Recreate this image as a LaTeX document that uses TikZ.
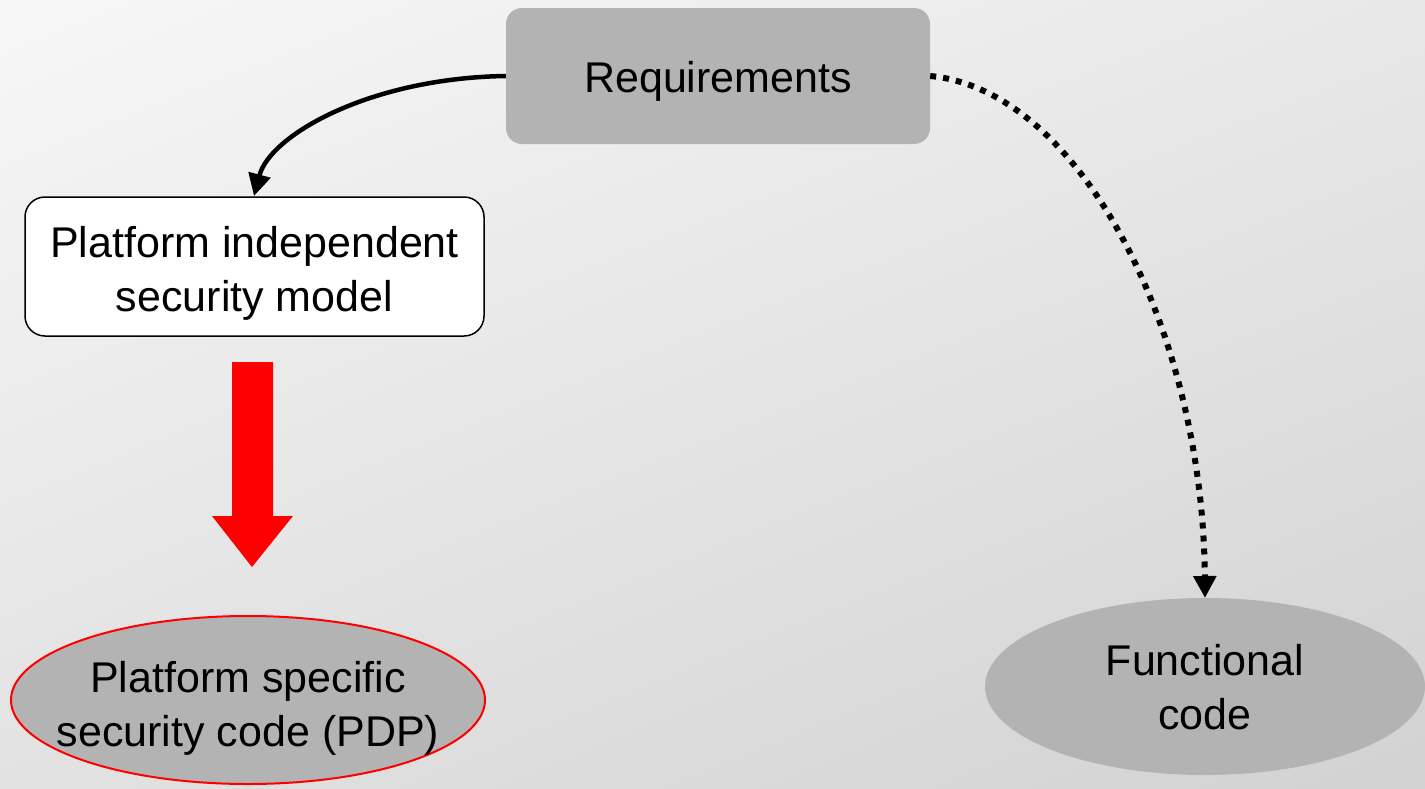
\documentclass[tikz,border=0pt]{standalone}
\usepackage{fontspec}
\setmainfont{Liberation Sans}
\usetikzlibrary{shapes.geometric,arrows.meta,shadings}
\definecolor{boxgrey}{HTML}{B3B3B3}
\definecolor{bgtl}{HTML}{F7F7F7}
\definecolor{bgtr}{HTML}{E8E8E8}
\definecolor{bgbl}{HTML}{E2E2E2}
\definecolor{bgbr}{HTML}{D2D2D2}
\tikzset{
  lbl/.style={font=\fontsize{43}{54}\selectfont, align=center, text=black},
  greybox/.style={lbl, fill=boxgrey, rounded corners=16pt, inner sep=0pt},
  whitebox/.style={lbl, fill=white, draw=black, line width=1.5pt, rounded corners=20pt, inner sep=0pt},
  greyoval/.style={fill=boxgrey},
  solidflow/.style={line width=4.5pt, -{Triangle[width=22pt,length=22pt]}},
  dotflow/.style={line width=6pt, dash pattern=on 6pt off 7pt, -{Triangle[width=22pt,length=22pt]}},
}
\begin{document}
\begin{tikzpicture}[x=1pt,y=-1pt]
  % background
  \shade[upper left=bgtl, upper right=bgtr, lower left=bgbl, lower right=bgbr]
    (0,0) rectangle (1425,788);
  \useasboundingbox (0,0) rectangle (1425,788);

  % boxes
  \node[greybox, minimum width=424pt, minimum height=136pt] (req) at (718,76) {};
  \node[lbl] at (718,81) {Requirements};
  \node[whitebox, minimum width=459pt, minimum height=139pt] (pim) at (254.5,266.5) {};
  \node[lbl] at (254.5,273) {Platform independent\\security model};

  % ovals
  \filldraw[greyoval, draw=red, line width=2pt] (248,700) ellipse [x radius=237, y radius=84];
  \node[lbl] (psc) at (248,708) {Platform specific\\security code (PDP)};
  \fill[greyoval] (1205,686.5) ellipse [x radius=220, y radius=88.5];
  \coordinate (functop) at (1205,598);
  \node[lbl] (func) at (1205,687) {Functional\\code};

  % connectors
  \coordinate (pimtop) at (254,196);
  \draw[solidflow] (req.west) .. controls (370,78) and (270,135) .. (pimtop);
  \draw[dotflow] (req.east) .. controls (1080,90) and (1203,330) .. (functop);

  % transformation arrow
  \fill[red] (232,362) -- (273,362) -- (273,516) -- (293,516) -- (252,567)
    -- (212,516) -- (232,516) -- cycle;
\end{tikzpicture}
\end{document}
